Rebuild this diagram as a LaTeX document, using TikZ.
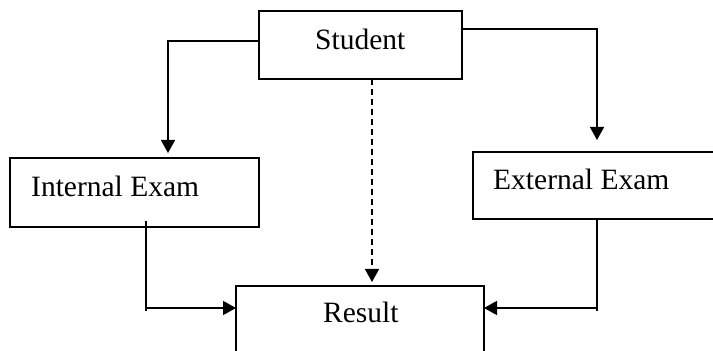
\documentclass[tikz,border=0pt]{standalone}
\usepackage{fontspec}
\setmainfont{Liberation Serif}
\usetikzlibrary{arrows.meta,calc}
\begin{document}
\begin{tikzpicture}[x=1pt,y=1pt,
  box/.style={draw,line width=1.3pt,inner sep=0pt,outer sep=0pt},
  lbl/.style={anchor=base west,inner sep=0pt,font=\fontsize{29.5}{34}\selectfont},
  conn/.style={line width=1.5pt},
  arr/.style={line width=1.5pt,-{Triangle[width=14pt,length=13pt]}}]
\useasboundingbox (0,0) rectangle (713,351);
\clip (0,0) rectangle (713,351);
% boxes
\node[box,minimum width=203pt,minimum height=68pt] (st) at (360.5,306) {};
\node[box,minimum width=249pt,minimum height=69pt] (ie) at (134.5,158.5) {};
\node[box,minimum width=287pt,minimum height=67pt] (ee) at (616.5,165.5) {};
\node[box,minimum width=248pt,minimum height=85pt] (res) at (360,22.5) {};
% texts
\node[lbl] (tst) at (315,301) {Student};
\node[lbl] (tie) at (31,154) {Internal Exam};
\node[lbl] (tee) at (493,161) {External Exam};
\node[lbl] (tres) at (323,28) {Result};
% connectors
\draw[arr] ([yshift=4pt]st.west) -| ([xshift=33.5pt,yshift=5pt]ie.north);
\draw[arr] ([yshift=16pt]st.east) -| ([xshift=-19.5pt,yshift=12pt]ee.north);
\draw[arr,dash pattern=on 6pt off 4pt] ([xshift=11.5pt]st.south) -- ([xshift=12pt,yshift=4pt]res.north);
\coordinate (ia) at ([yshift=20.5pt]res.west);
\coordinate (ea) at ([yshift=20.5pt]res.east);
\coordinate (ie1) at ([xshift=11.5pt,yshift=6pt]ie.south);
\coordinate (ee1) at ([xshift=-19.5pt]ee.south);
\draw[conn] (ie1) -- ++(0,-90);
\draw[arr] (ie1 |- ia) -- (ia);
\draw[conn] (ee1) -- ++(0,-92);
\draw[arr] (ee1 |- ea) -- (ea);
\end{tikzpicture}
\end{document}
